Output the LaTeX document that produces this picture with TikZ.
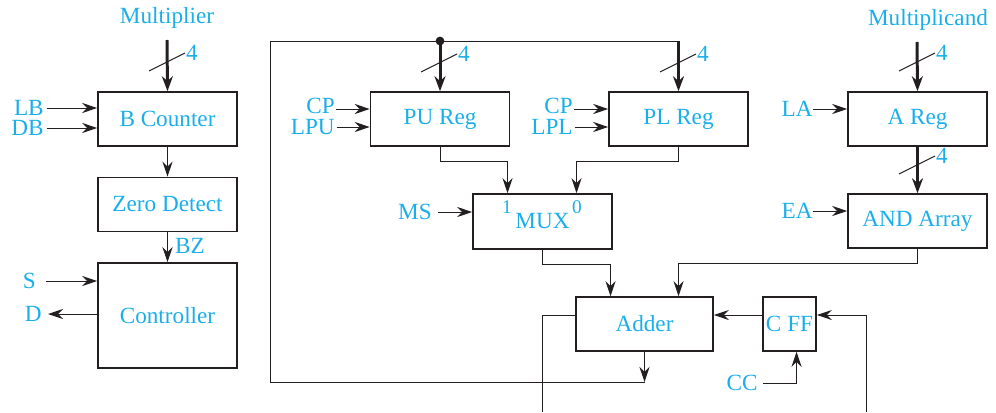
\documentclass[tikz,border=0pt]{standalone}
\usepackage{fontspec}
\setmainfont{Liberation Serif}
\usepackage{tikz}
\usetikzlibrary{arrows.meta,calc}
\definecolor{sigblue}{HTML}{1AAEEA}
\definecolor{wireblack}{HTML}{231F20}

\begin{document}
\begin{tikzpicture}[
  x=0.02cm, y=-0.02cm,
  box/.style={draw=wireblack, line width=0.9pt, minimum width=2.78cm, minimum height=1.08cm, inner sep=0pt, text=sigblue, font=\fontsize{13.2}{15}\selectfont},
  lbl/.style={text=sigblue, inner sep=0pt, font=\fontsize{13.2}{15}\selectfont},
  wire/.style={draw=wireblack, line width=0.55pt},
  sig/.style={wire, -{Stealth[length=3mm, width=2mm]}},
  bus/.style={draw=wireblack, line width=1.7pt, -{Stealth[length=3mm, width=2.2mm]}},
  dot/.style={circle, fill=wireblack, inner sep=0pt, minimum size=5pt},
]
\useasboundingbox (0,0) rectangle (996,412);

% Left column: multiplier side
\node[box] (bcnt) at (167.5,119) {B Counter};
\node[box] (zdet) at (167.5,204.5) {Zero Detect};
\node[box, minimum height=2.1cm] (ctrl) at (167.5,315.5) {Controller};
\node[lbl] (mplr) at (167,18) {Multiplier};
\coordinate (mtop) at (167,40);
\draw[bus] (mtop) -- (bcnt.north);
\draw[sig] (bcnt.south) -- (zdet.north);
\draw[sig] (zdet.south) -- (ctrl.north);
\node[lbl] (bz) at (190,246) {BZ};

% Control inputs of the left column
\node[lbl, anchor=east] (lb) at (44,108) {LB};
\node[lbl, anchor=east] (db) at (44,128) {DB};
\node[lbl, anchor=east] (s) at (36,281) {S};
\node[lbl, anchor=east] (d) at (42,314) {D};
\draw[sig, shorten <=0.5mm] (lb.east) -- (lb.east -| bcnt.west);
\draw[sig, shorten <=0.5mm] (db.east) -- (db.east -| bcnt.west);
\draw[sig, shorten <=2mm] (s.east) -- (s.east -| ctrl.west);
\draw[sig, shorten >=1.2mm] (d.east -| ctrl.west) -- (d.east);

% Middle: product registers and multiplexer
\node[box] (pureg) at (440,119) {PU Reg};
\node[box] (plreg) at (678.5,119) {PL Reg};
\node[box, minimum height=1.1cm] (mux) at (542.5,221.5) {MUX};
\node[lbl, font=\fontsize{11}{13}\selectfont] (mux1) at (507,207) {1};
\node[lbl, font=\fontsize{11}{13}\selectfont] (mux0) at (577,207) {0};
\node[lbl, anchor=east] (cpu) at (335,106) {CP};
\node[lbl, anchor=east] (lpu) at (335,127) {LPU};
\node[lbl, anchor=east] (cpl) at (573,106) {CP};
\node[lbl, anchor=east] (lpl) at (573,127) {LPL};
\node[lbl, anchor=east] (ms) at (432,212) {MS};
\draw[sig] (336,109) -- (336,109 -| pureg.west);
\draw[sig, shorten <=0.3mm] (lpu.east) -- (lpu.east -| pureg.west);
\draw[sig] (574,109) -- (574,109 -| plreg.west);
\draw[sig, shorten <=0.3mm] (lpl.east) -- (lpl.east -| plreg.west);
\draw[sig, shorten <=1.2mm] (ms.east) -- (ms.east -| mux.west);
\draw[sig] (pureg.south) -- ++(0,15) -| ([shift={(-35,0)}]mux.north);
\draw[sig] (plreg.south) -- ++(0,15) -| ([shift={(34,0)}]mux.north);

% Right column: multiplicand side
\node[box] (areg) at (917.5,119) {A Reg};
\node[box] (andarr) at (917.5,221) {AND Array};
\node[lbl] (mcand) at (928,20) {Multiplicand};
\coordinate (atop) at (917,42);
\draw[bus] (atop) -- (areg.north);
\draw[bus] (areg.south) -- (andarr.north);
\node[lbl, anchor=east] (la) at (813,109) {LA};
\node[lbl, anchor=east] (ea) at (813,211) {EA};
\draw[sig] (la.east) -- (la.east -| areg.west);
\draw[sig] (ea.east) -- (ea.east -| andarr.west);

% Adder and carry flip-flop
\node[box, minimum width=2.74cm] (adder) at (644.5,324) {Adder};
\node[box, minimum width=1.06cm] (cff) at (789.5,324) {C FF};
\node[lbl, anchor=east] (cc) at (758,383) {CC};
\draw[sig] (mux.south) -- ++(0,15) -| ([shift={(-34,0)}]adder.north);
\draw[sig] (andarr.south) -- ++(0,15) -| ([shift={(34,0)}]adder.north);
\draw[sig] ([shift={(0,-9)}]cff.west) -- ([shift={(0,-9)}]adder.east);
\draw[sig, shorten <=1mm] (cc.east) -| ([shift={(7,0)}]cff.south);
\coordinate (botr) at (866,412);
\draw[sig] (botr) |- ([shift={(0,-9)}]cff.east);
\coordinate (botl) at (542,412);
\draw[wire] ([shift={(0,-9)}]adder.west) -| (botl);

% Feedback bus into PU Reg and PL Reg
\coordinate (fbl) at (270,382);
\coordinate (fbt) at (270,41);
\draw[sig] (adder.south) -- (adder.south |- fbl);
\draw[wire] (adder.south |- fbl) -- (fbl) -- (fbt) -- (fbt -| plreg.north);
\draw[bus] (fbt -| plreg.north) -- (plreg.north);
\draw[bus] (fbt -| pureg.north) -- (pureg.north);
\node[dot] (jn) at (fbt -| pureg.north) {};

% Bus width marks
\foreach \bx/\by [count=\i] in {167/62, 439/63, 678/63, 917/62, 917/165}{
  \draw[wire] (\bx-18,\by+9) -- (\bx+18,\by-9);
  \node[lbl] (w\i) at (\bx+25,\by-9) {4};
}
\end{tikzpicture}
\end{document}
